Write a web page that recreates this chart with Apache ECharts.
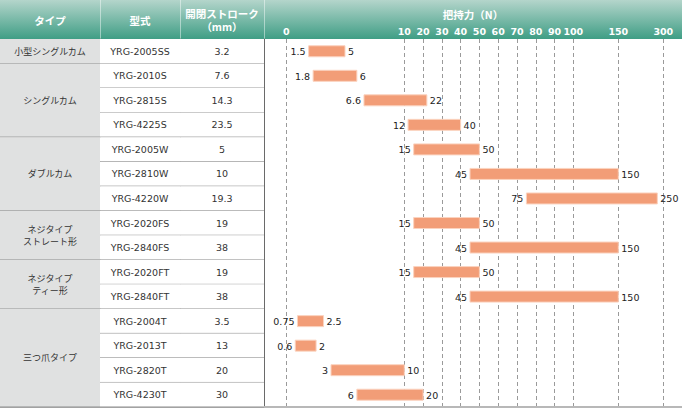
<!DOCTYPE html>
<html><head><meta charset="utf-8">
<script src="https://cdn.jsdelivr.net/npm/echarts@6/dist/echarts.min.js"></script>
<style>html,body{margin:0;padding:0;background:#fff}#c{width:682px;height:409px}</style>
</head><body><div id="c"></div>
<script>
// ---------- data ----------
const headers = ['タイプ', '型式', '開閉ストローク\n（mm）'];
const forceTitle = '把持力（N）';
const typeNames = ['小型シングルカム', 'シングルカム', 'ダブルカム', 'ネジタイプ\nストレート形', 'ネジタイプ\nティー形', '三つ爪タイプ'];
const typeRowCounts = [1, 3, 3, 2, 2, 4];
const models = ['YRG-2005SS', 'YRG-2010S', 'YRG-2815S', 'YRG-4225S', 'YRG-2005W', 'YRG-2810W', 'YRG-4220W',
  'YRG-2020FS', 'YRG-2840FS', 'YRG-2020FT', 'YRG-2840FT', 'YRG-2004T', 'YRG-2013T', 'YRG-2820T', 'YRG-4230T'];
const strokes = [3.2, 7.6, 14.3, 23.5, 5, 10, 19.3, 19, 38, 19, 38, 3.5, 13, 20, 30];
const forceMin = [1.5, 1.8, 6.6, 12, 15, 45, 75, 15, 45, 15, 45, 0.75, 0.6, 3, 6];
const forceMax = [5, 6, 22, 40, 50, 150, 250, 50, 150, 50, 150, 2.5, 2, 10, 20];
const forceTicks = [0, 10, 20, 30, 40, 50, 60, 70, 80, 90, 100, 150, 300];

// ---------- custom non-linear force scale (value -> axis units) ----------
const SCALE_KNOTS = [0, 3, 5, 10, 20, 30, 40, 50, 60, 70, 80, 90, 100, 150, 250, 300];
const SCALE_UNITS = [0, 44.7, 58.7, 118, 136.8, 155.6, 174.3, 193.1, 211.9, 230.7, 249.5, 268.2, 287, 332, 371, 377];
function scaleForce(v) {
  for (let k = 1; k < SCALE_KNOTS.length; k++) {
    if (v <= SCALE_KNOTS[k]) {
      const a = SCALE_KNOTS[k - 1], b = SCALE_KNOTS[k];
      return SCALE_UNITS[k - 1] + (v - a) / (b - a) * (SCALE_UNITS[k] - SCALE_UNITS[k - 1]);
    }
  }
  return SCALE_UNITS[SCALE_UNITS.length - 1];
}
const tickUnits = forceTicks.map(scaleForce);

// ---------- styles ----------
const FONT = "'DejaVu Sans', 'Noto Sans CJK JP', sans-serif";
const JFONT = "'Noto Sans CJK JP', 'DejaVu Sans', sans-serif";
const LINE = '#8c8c8c';
const VLINE = '#6a6a6a';
const TOP = 39, BOTTOM = 2;
const cols = [{ left: 0, width: 100 }, { left: 100, width: 80 }, { left: 180, width: 84 }];

const rowIdx = models.map((m, i) => i);

const grids = cols.map(c => ({ left: c.left, width: c.width, top: TOP, bottom: BOTTOM }))
  .concat([{ left: 264, right: 0, top: TOP, bottom: BOTTOM }]);

const xAxes = [];
const yAxes = [];
cols.forEach((c, g) => {
  xAxes.push({
    type: 'category', gridIndex: g, position: 'top', data: [headers[g]],
    axisLine: { show: false }, axisTick: { show: false }, splitLine: { show: false },
    axisLabel: { color: '#fff', fontWeight: 'bold', fontSize: 10.5, fontFamily: JFONT, margin: 19,
      verticalAlign: 'middle', lineHeight: 13.5, align: 'center' }
  });
  xAxes.push({
    type: 'category', gridIndex: g, position: 'bottom', data: [''],
    axisLine: { show: true, lineStyle: { color: '#b8b8b8', width: 2 } },
    axisTick: { show: false }, axisLabel: { show: false }
  });
  yAxes.push({
    type: 'category', gridIndex: g, inverse: true, data: rowIdx,
    axisLine: { show: g > 0, onZero: false, lineStyle: { color: VLINE, width: 1 } },
    axisTick: { show: false }, axisLabel: { show: false }, splitLine: { show: false }
  });
});
// chart grid axes
xAxes.push({
  type: 'value', gridIndex: 3, position: 'top', min: -22.3, max: 395.7,
  name: forceTitle, nameLocation: 'middle', nameGap: 25,
  nameTextStyle: { color: '#fff', fontWeight: 'bold', fontSize: 10.5, fontFamily: JFONT, verticalAlign: 'middle' },
  axisLine: { show: false },
  axisTick: { show: false, customValues: tickUnits },
  axisLabel: {
    customValues: tickUnits, color: '#fff', fontWeight: 'bold', fontSize: 9.5, fontFamily: FONT,
    margin: 8, verticalAlign: 'middle',
    formatter: v => {
      let best = 0;
      tickUnits.forEach((u, k) => { if (Math.abs(u - v) < Math.abs(tickUnits[best] - v)) best = k; });
      return String(forceTicks[best]);
    }
  },
  splitLine: { show: true, lineStyle: { color: '#9a9a9a', type: [4, 3], width: 1 } }
});
xAxes.push({
  type: 'value', gridIndex: 3, position: 'bottom', min: -22.3, max: 395.7,
  axisLine: { show: true, onZero: false, lineStyle: { color: '#b8b8b8', width: 2 } },
  axisTick: { show: false }, axisLabel: { show: false }, splitLine: { show: false }
});
yAxes.push({
  type: 'category', gridIndex: 3, inverse: true, data: rowIdx,
  axisLine: { show: true, onZero: false, lineStyle: { color: VLINE, width: 1 } },
  axisTick: { show: false }, axisLabel: { show: false }, splitLine: { show: false }
});

// ---------- series ----------
function cellRender(textOf, fill, font) {
  return function (params, api) {
    const cs = params.coordSys;
    const r0 = api.value(1), r1 = api.value(2);
    const h = api.size([0, 1])[1];
    const c0 = api.coord([0, r0]), c1 = api.coord([0, r1]);
    const top = c0[1] - h / 2, bot = c1[1] + h / 2;
    return {
      type: 'group', children: [
        { type: 'rect', shape: { x: cs.x, y: top, width: cs.width, height: bot - top }, style: { fill: fill } },
        { type: 'line', shape: { x1: cs.x, y1: bot, x2: cs.x + cs.width, y2: bot }, style: { stroke: LINE, lineWidth: 1 } },
        { type: 'text', x: cs.x + cs.width / 2, y: (top + bot) / 2,
          style: { text: textOf(params.dataIndex), align: 'center', verticalAlign: 'middle',
            font: font, fill: '#333', lineHeight: 11.5 } }
      ]
    };
  };
}

const typeData = [];
let start = 0;
typeRowCounts.forEach((n, k) => { typeData.push([0, start, start + n - 1]); start += n; });

const series = [
  { type: 'custom', xAxisIndex: 0, yAxisIndex: 0, data: typeData, encode: { x: 0, y: [1, 2] },
    renderItem: cellRender(i => typeNames[i], '#e0e1e1', '9px ' + JFONT), silent: true },
  { type: 'custom', xAxisIndex: 2, yAxisIndex: 1, data: rowIdx.map(i => [0, i, i]), encode: { x: 0, y: [1, 2] },
    renderItem: cellRender(i => models[i], '#fff', '9.5px ' + FONT), silent: true },
  { type: 'custom', xAxisIndex: 4, yAxisIndex: 2, data: rowIdx.map(i => [0, i, i]), encode: { x: 0, y: [1, 2] },
    renderItem: cellRender(i => String(strokes[i]), '#fff', '9.5px ' + FONT), silent: true },
  { type: 'custom', xAxisIndex: 6, yAxisIndex: 3,
    data: rowIdx.map(i => [scaleForce(forceMin[i]), scaleForce(forceMax[i]), i]),
    encode: { x: [0, 1], y: 2 }, silent: true,
    renderItem: function (params, api) {
      const i = params.dataIndex;
      const p0 = api.coord([api.value(0), api.value(2)]);
      const p1 = api.coord([api.value(1), api.value(2)]);
      const bh = 11;
      return {
        type: 'group', children: [
          { type: 'rect', shape: { x: p0[0], y: p0[1] - bh / 2, width: p1[0] - p0[0], height: bh },
            style: { fill: '#F29D77', stroke: '#FBD3BF', lineWidth: 1 } },
          { type: 'text', x: p0[0] - 3, y: p0[1] + 0.5,
            style: { text: String(forceMin[i]), align: 'right', verticalAlign: 'middle', font: '9.5px ' + FONT, fill: '#222' } },
          { type: 'text', x: p1[0] + 3, y: p1[1] + 0.5,
            style: { text: String(forceMax[i]), align: 'left', verticalAlign: 'middle', font: '9.5px ' + FONT, fill: '#222' } }
        ]
      };
    }
  }
];

const chart = echarts.init(document.getElementById('c'), null, { renderer: 'svg' });
chart.setOption({
  animation: false,
  backgroundColor: '#fff',
  graphic: [
    { type: 'rect', z: -10, shape: { x: 0, y: 0, width: 682, height: TOP },
      style: { fill: new echarts.graphic.LinearGradient(0, 0, 0, 1, [
        { offset: 0, color: '#b4d5cb' }, { offset: 1, color: '#3f9e85' }]) } },
    { type: 'line', z: -9, shape: { x1: 100.5, y1: 0, x2: 100.5, y2: TOP }, style: { stroke: 'rgba(255,255,255,0.45)', lineWidth: 1 } },
    { type: 'line', z: -9, shape: { x1: 180.5, y1: 0, x2: 180.5, y2: TOP }, style: { stroke: 'rgba(255,255,255,0.45)', lineWidth: 1 } },
    { type: 'line', z: -9, shape: { x1: 264.5, y1: 0, x2: 264.5, y2: TOP }, style: { stroke: 'rgba(255,255,255,0.45)', lineWidth: 1 } }
  ],
  grid: grids,
  xAxis: xAxes,
  yAxis: yAxes,
  series: series
});
</script>
</body></html>
